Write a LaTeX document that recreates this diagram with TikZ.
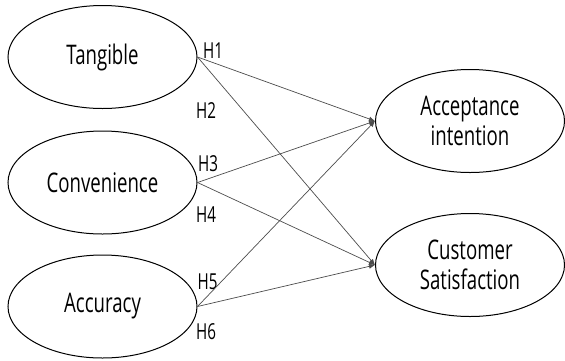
\documentclass[tikz,border=0pt]{standalone}
\usepackage{fontspec}
\setmainfont{Open Sans}[FakeStretch=0.69]
\usetikzlibrary{shapes.geometric,arrows.meta}
\tikzset{
  construct/.style={ellipse, draw=black, line width=1pt, minimum width=189pt, minimum height=103pt, inner sep=0pt, align=center, font=\fontsize{27}{30}\selectfont},
  hyp/.style={inner sep=0pt, font=\fontsize{22}{24}\selectfont},
  path/.style={draw=black!70, line width=0.7pt, -{Latex[length=6pt,width=5pt]}}
}
\begin{document}
\begin{tikzpicture}[x=1pt,y=-1pt]
\useasboundingbox (0,0) rectangle (565,360);
\node[construct] (tan) at (102.5,57) {Tangible};
\node[construct] (con) at (102.5,182.5) {Convenience};
\node[construct] (acc) at (102.5,306.5) {Accuracy};
\node[construct] (ai) at (470,121) {Acceptance\\intention};
\node[construct] (cs) at (470,265) {Customer\\Satisfaction};
\node[hyp] (h1) at (213,50.5) {H1};
\node[hyp] (h2) at (206,111) {H2};
\node[hyp] (h3) at (208,164) {H3};
\node[hyp] (h4) at (206,214.5) {H4};
\node[hyp] (h5) at (207.5,281.5) {H5};
\node[hyp] (h6) at (206,331.5) {H6};
\draw[path] (tan.east) -- (ai.west);
\draw[path] (tan.east) -- (cs.west);
\draw[path] (con.east) -- (ai.west);
\draw[path] (con.east) -- (cs.west);
\draw[path] (acc.east) -- (ai.west);
\draw[path] (acc.east) -- (cs.west);
\end{tikzpicture}
\end{document}
